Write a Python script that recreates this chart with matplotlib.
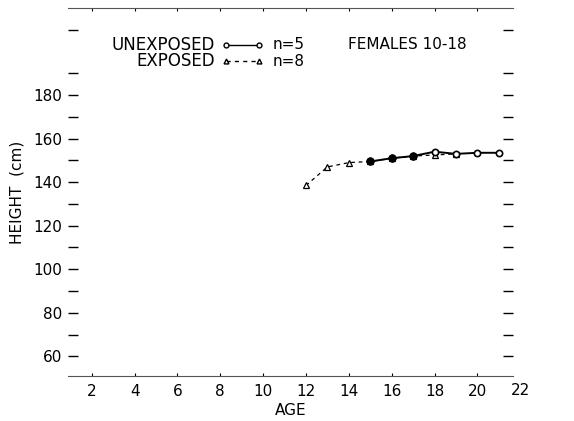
import numpy as np
import matplotlib.pyplot as plt

## data
age_unexp = [15, 16, 17, 18, 19, 20, 21]
height_unexp = [149.5, 151, 152, 154, 153, 153.5, 153.5]

age_exp = [12, 13, 14, 15, 16, 17, 18, 19]
height_exp = [138.5, 147, 149, 149.5, 151, 152, 152.5, 153]

xticks = [2, 4, 6, 8, 10, 12, 14, 16, 18, 20]
yticks = [60, 80, 100, 120, 140, 160, 180]

fs = 11
fig = plt.figure(figsize=(5.74, 4.21), dpi=100)
ax = fig.add_axes([0.118, 0.107, 0.776, 0.874])

ax.plot(age_exp, height_exp, color='black', lw=0.9, ls=(0, (3, 3)),
        marker='^', ms=4, mfc='white', mec='black', mew=0.9)
ax.plot(age_unexp, height_unexp, color='black', lw=1.4,
        marker='o', ms=4.5, mfc='white', mec='black', mew=1.2)
# heavy overlap region looks filled in the original
ax.plot(age_unexp[:3], height_unexp[:3], 'o', ms=5, color='black')

ax.set_xlim(0.88, 21.67)
ax.set_ylim(51, 220)

ax.set_xticks(xticks)
ax.set_xticklabels([str(t) for t in xticks])
ax.text(22, 51 - 3.2, '22', ha='center', va='top', fontsize=fs, clip_on=False)
ax.set_yticks(yticks)
ax.set_yticks(np.arange(70, 215, 20), minor=True)

ax.tick_params(axis='both', which='both', direction='in', labelsize=fs,
               color='black')
ax.tick_params(axis='y', which='both', length=7, width=1, right=True,
               pad=4)
ax.tick_params(axis='x', which='both', length=2, width=0.8, top=True,
               pad=6)

for s in ['left', 'right']:
    ax.spines[s].set_visible(False)
for s in ['top', 'bottom']:
    ax.spines[s].set_color('#555555')
    ax.spines[s].set_linewidth(0.8)

ax.set_xlabel('AGE', fontsize=fs, labelpad=3)
ax.set_ylabel('HEIGHT  (cm)', fontsize=fs, labelpad=6)

# legend block
tr = ax.transAxes
ax.text(0.33, 0.90, 'UNEXPOSED', ha='right', va='center', fontsize=12,
        transform=tr)
ax.text(0.33, 0.855, 'EXPOSED', ha='right', va='center', fontsize=12,
        transform=tr)
ax.plot([0.355, 0.43], [0.90, 0.90], color='black', lw=1.0, transform=tr,
        clip_on=False)
ax.plot([0.355, 0.43], [0.90, 0.90], 'o', ms=3.5, mfc='white', mec='black',
        transform=tr, clip_on=False)
ax.plot([0.355, 0.43], [0.855, 0.855], color='black', lw=1.0,
        ls=(0, (3, 3)), transform=tr, clip_on=False)
ax.plot([0.355, 0.43], [0.855, 0.855], '^', ms=3.5, mfc='white', mec='black',
        transform=tr, clip_on=False)
ax.text(0.46, 0.90, 'n=5', ha='left', va='center', fontsize=fs, transform=tr)
ax.text(0.46, 0.855, 'n=8', ha='left', va='center', fontsize=fs, transform=tr)
ax.text(0.63, 0.90, 'FEMALES 10-18', ha='left', va='center', fontsize=fs,
        transform=tr)

fig.savefig('out.png', dpi=100)
